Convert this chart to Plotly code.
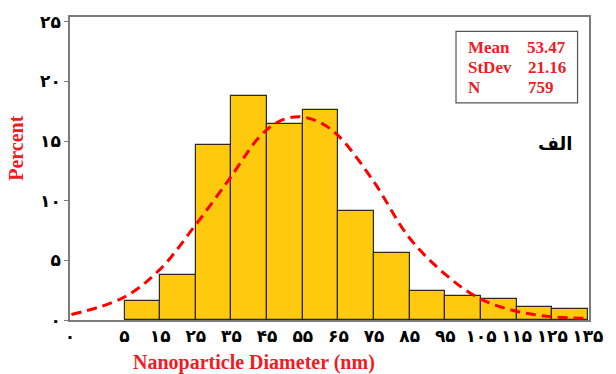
import plotly.graph_objects as go

# Histogram bins (nm): left edges and percent heights
bin_left = [5, 15, 25, 35, 45, 55, 65, 75, 85, 95, 105, 115, 125]
bin_width = 10
percent = [1.6, 3.8, 14.7, 18.75, 16.4, 17.6, 9.1, 5.6, 2.4, 2.05, 1.78, 1.1, 0.9]

# Fitted normal curve
curve_x = [-9.9, 4.5, 14.8, 24.5, 34.5, 42.7, 48.0, 53.8, 59.5, 64.8, 74.7, 85.0, 95.7, 104.8, 115.0, 125.0, 135.0]
curve_y = [0.46, 1.85, 4.2, 7.8, 11.85, 15.3, 16.6, 17.04, 16.6, 15.5, 11.7, 6.85, 3.65, 1.77, 0.73, 0.27, 0.13]

# Tick labels
x_tickvals = [-10.3, 5, 15, 25, 35, 45, 55, 65, 75, 85, 95, 105, 115, 125, 135]
x_ticktext = ["۰", "۵", "۱۵", "۲۵", "۳۵", "۴۵", "۵۵", "۶۵", "۷۵", "۸۵", "۹۵", "۱۰۵", "۱۱۵", "۱۲۵", "۱۳۵"]
y_tickvals = [0, 5, 10, 15, 20, 25]
y_ticktext = ["۰", "۵", "۱۰", "۱۵", "۲۰", "۲۵"]

stats_labels = ["Mean", "StDev", "N"]
stats_values = ["53.47", "21.16", "759"]

centers = [b + bin_width / 2 for b in bin_left]

fig = go.Figure()
fig.add_trace(go.Bar(
    x=centers, y=percent, width=[bin_width] * len(centers),
    marker=dict(color="#FFC90E", line=dict(color="#2b2b1a", width=1.2)),
    showlegend=False,
))
fig.add_trace(go.Scatter(
    x=curve_x, y=curve_y, mode="lines",
    line=dict(color="#FF0000", width=3, dash="10px,6px", shape="spline"),
    showlegend=False,
))

red_font = dict(family="Liberation Serif", size=17, color="#EE1C25")
digit_font = dict(family="DejaVu Sans", size=17, color="black", weight="bold")

fig.update_layout(
    width=616, height=374,
    margin=dict(l=70, r=25, t=15, b=54),
    paper_bgcolor="white", plot_bgcolor="white",
    bargap=0,
    xaxis=dict(
        range=[-10.3, 135.3], tickvals=x_tickvals, ticktext=x_ticktext,
        showgrid=False, zeroline=False, showline=True, linecolor="#7a7a7a", linewidth=1.5,
        mirror=True, ticks="", ticklen=0, tickfont=digit_font,
    ),
    yaxis=dict(
        range=[0, 25.4], tickvals=y_tickvals, ticktext=y_ticktext,
        showgrid=False, zeroline=False, showline=True, linecolor="#7a7a7a", linewidth=1.5,
        mirror=True, ticks="outside", ticklen=4, tickcolor="#7a7a7a", tickfont=digit_font,
    ),
)

# Axis titles
fig.add_annotation(
    text="<b>Percent</b>", xref="paper", yref="paper", x=-0.103, y=0.567,
    xanchor="center", yanchor="middle", textangle=-90, showarrow=False,
    font=dict(family="Liberation Serif", size=20, color="#EE1C25"),
)
fig.add_annotation(
    text="<b>Nanoparticle Diameter (nm)</b>", xref="paper", yref="paper", x=0.355, y=-0.14,
    xanchor="center", yanchor="middle", showarrow=False,
    font=dict(family="Liberation Serif", size=20, color="#EE1C25"),
)

# Stats box
fig.add_shape(type="rect", xref="paper", yref="paper",
              x0=(457.5 - 70) / 521, x1=(579.5 - 70) / 521,
              y0=(320 - 101.5) / 305, y1=(320 - 29.5) / 305,
              line=dict(color="#555555", width=1.2), fillcolor="white")
row_y = [46, 66, 86]
value_x = [570, 570, 558]
for lab, val, yy, vx in zip(stats_labels, stats_values, row_y, value_x):
    fig.add_annotation(text="<b>" + lab + "</b>", xref="paper", yref="paper",
                       x=(468 - 70) / 521, y=(320 - yy) / 305, xanchor="left", yanchor="middle",
                       showarrow=False, font=red_font)
    fig.add_annotation(text="<b>" + val + "</b>", xref="paper", yref="paper",
                       x=(vx - 70) / 521, y=(320 - yy) / 305, xanchor="right", yanchor="middle",
                       showarrow=False, font=red_font)

fig.add_annotation(text="<b>الف</b>", xref="paper", yref="paper",
                   x=(557 - 70) / 521, y=(320 - 142) / 305, xanchor="center", yanchor="middle",
                   showarrow=False, font=dict(family="DejaVu Sans", size=18, color="black"))

fig.write_html("out.html")
